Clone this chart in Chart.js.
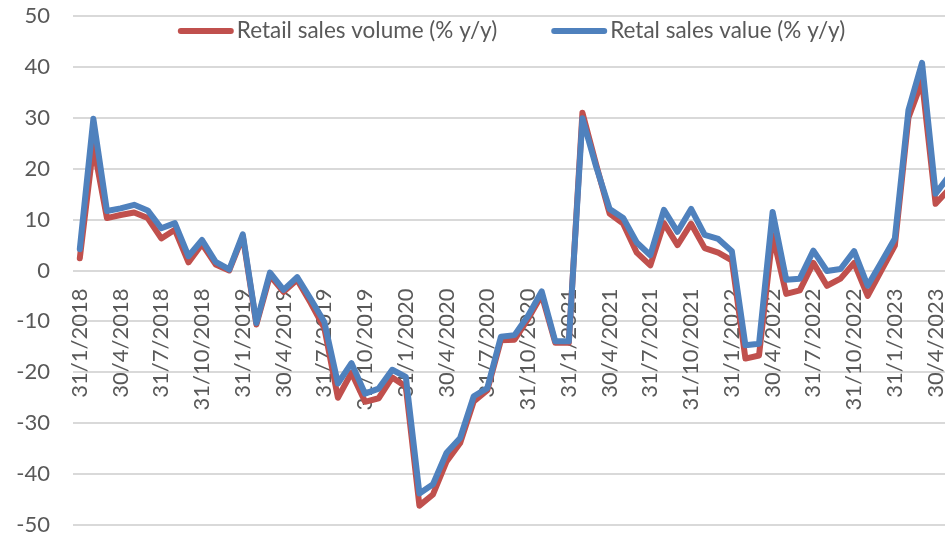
<!DOCTYPE html>
<html>
<head>
<meta charset="utf-8">
<script src="https://cdn.jsdelivr.net/npm/chart.js@4.4.0/dist/chart.umd.min.js"></script>
<style>
  html, body { margin: 0; padding: 0; background: #fff; overflow: hidden; }
</style>
</head>
<body>
<canvas id="myChart" width="956" height="538"></canvas>
<script>
// month-end dates, Jan 2018 - May 2023
const months = [
  '31/1/2018', '28/2/2018', '31/3/2018', '30/4/2018', '31/5/2018', '30/6/2018',
  '31/7/2018', '31/8/2018', '30/9/2018', '31/10/2018', '30/11/2018', '31/12/2018',
  '31/1/2019', '28/2/2019', '31/3/2019', '30/4/2019', '31/5/2019', '30/6/2019',
  '31/7/2019', '31/8/2019', '30/9/2019', '31/10/2019', '30/11/2019', '31/12/2019',
  '31/1/2020', '29/2/2020', '31/3/2020', '30/4/2020', '31/5/2020', '30/6/2020',
  '31/7/2020', '31/8/2020', '30/9/2020', '31/10/2020', '30/11/2020', '31/12/2020',
  '31/1/2021', '28/2/2021', '31/3/2021', '30/4/2021', '31/5/2021', '30/6/2021',
  '31/7/2021', '31/8/2021', '30/9/2021', '31/10/2021', '30/11/2021', '31/12/2021',
  '31/1/2022', '28/2/2022', '31/3/2022', '30/4/2022', '31/5/2022', '30/6/2022',
  '31/7/2022', '31/8/2022', '30/9/2022', '31/10/2022', '30/11/2022', '31/12/2022',
  '31/1/2023', '28/2/2023', '31/3/2023', '30/4/2023', '31/5/2023'
];

const volume = [
  2.4, 24.5, 10.3, 10.9, 11.4, 10.3, 6.3, 8.0, 1.6, 5.2, 1.2, 0.0,
  6.7, -10.6, -1.0, -4.2, -1.8, -6.4, -11.3, -25.0, -20.1, -25.8, -25.1, -21.0,
  -22.8, -46.2, -44.0, -37.5, -33.9, -25.7, -23.5, -13.7, -13.6, -9.5, -4.8, -14.2,
  -14.2, 31.0, 20.9, 11.2, 9.2, 3.5, 1.0, 9.3, 5.0, 9.2, 4.4, 3.5,
  2.0, -17.3, -16.7, 7.0, -4.6, -3.9, 1.5, -3.0, -1.6, 1.5, -5.0, 0.0,
  4.9, 30.0, 37.2, 13.1, 16.0
];

const value = [
  4.2, 29.8, 11.7, 12.2, 12.9, 11.8, 8.3, 9.3, 2.8, 6.0, 1.7, 0.2,
  7.1, -10.3, -0.4, -3.8, -1.3, -5.6, -10.1, -22.2, -18.2, -24.2, -23.2, -19.5,
  -20.9, -43.8, -42.0, -35.8, -32.9, -24.7, -23.1, -13.0, -12.7, -8.9, -4.1, -13.9,
  -13.9, 29.9, 20.5, 12.1, 10.3, 5.5, 3.0, 11.9, 7.6, 12.1, 7.0, 6.2,
  3.8, -14.7, -14.4, 11.5, -1.8, -1.6, 3.9, -0.1, 0.3, 3.8, -3.0, 1.6,
  6.3, 31.5, 40.8, 15.1, 18.6
];

const seriesNames = ['Retail sales volume (% y/y)', 'Retal sales value (% y/y)'];

const textColor = '#595959';
const fontFamily = 'Lato, "Liberation Sans", sans-serif';

// legend drawn inside the plot, near the top
const insideLegend = {
  id: 'insideLegend',
  afterDraw(chart) {
    const ctx = chart.ctx;
    const area = chart.chartArea;
    const symLen = 56, gap = 3, spacing = 54;
    ctx.save();
    ctx.font = '22.5px ' + fontFamily;
    const widths = chart.data.datasets.map(d => ctx.measureText(d.label).width);
    let total = 0;
    widths.forEach((w, i) => { total += symLen + gap + w + (i ? spacing : 0); });
    let x = (area.left + area.right) / 2 - total / 2 - 3;
    chart.data.datasets.forEach((d, i) => {
      ctx.strokeStyle = d.borderColor;
      ctx.lineWidth = 6;
      ctx.lineCap = 'round';
      ctx.beginPath();
      ctx.moveTo(x + 3, 31);
      ctx.lineTo(x + symLen - 3, 31);
      ctx.stroke();
      ctx.fillStyle = textColor;
      ctx.textBaseline = 'alphabetic';
      ctx.textAlign = 'left';
      ctx.fillText(d.label, x + symLen + gap, 38);
      x += symLen + gap + widths[i] + spacing;
    });
    ctx.restore();
  }
};

const ctx = document.getElementById('myChart').getContext('2d');

const graph = {
  type: 'line',
  data: {
    labels: months,
    datasets: [{
      label: seriesNames[0],
      data: volume,
      borderColor: '#c0504d',
      backgroundColor: '#c0504d',
      borderWidth: 6,
      pointRadius: 0,
      tension: 0,
      borderJoinStyle: 'round',
      borderCapStyle: 'round',
      order: 1
    }, {
      label: seriesNames[1],
      data: value,
      borderColor: '#4f81bd',
      backgroundColor: '#4f81bd',
      borderWidth: 6,
      pointRadius: 0,
      tension: 0,
      borderJoinStyle: 'round',
      borderCapStyle: 'round',
      order: 0
    }]
  },
  options: {
    responsive: false,
    animation: false,
    layout: { padding: { top: 16, bottom: 13, left: 0, right: 0 } },
    plugins: {
      legend: { display: false },
      tooltip: { enabled: false }
    },
    scales: {
      x: {
        position: { y: 0 },
        offset: true,
        grid: { display: false },
        border: { display: false },
        ticks: {
          autoSkip: false,
          minRotation: 90,
          maxRotation: 90,
          padding: 10,
          color: textColor,
          font: { family: fontFamily, size: 22 },
          callback: (v, i) => (i % 3 === 0 ? months[i] : '')
        },
        afterFit: s => { s.paddingLeft = 0; s.paddingRight = 0; }
      },
      y: {
        min: -50,
        max: 50,
        ticks: {
          stepSize: 10,
          padding: 23,
          color: textColor,
          font: { family: fontFamily, size: 22 }
        },
        grid: { color: '#d9d9d9', lineWidth: 2, drawTicks: false },
        border: { display: false },
        afterFit: s => { s.width = 73; s.paddingTop = 0; s.paddingBottom = 0; }
      }
    }
  },
  plugins: [insideLegend]
};

const myChart = new Chart(ctx, graph);
</script>
</body>
</html>
